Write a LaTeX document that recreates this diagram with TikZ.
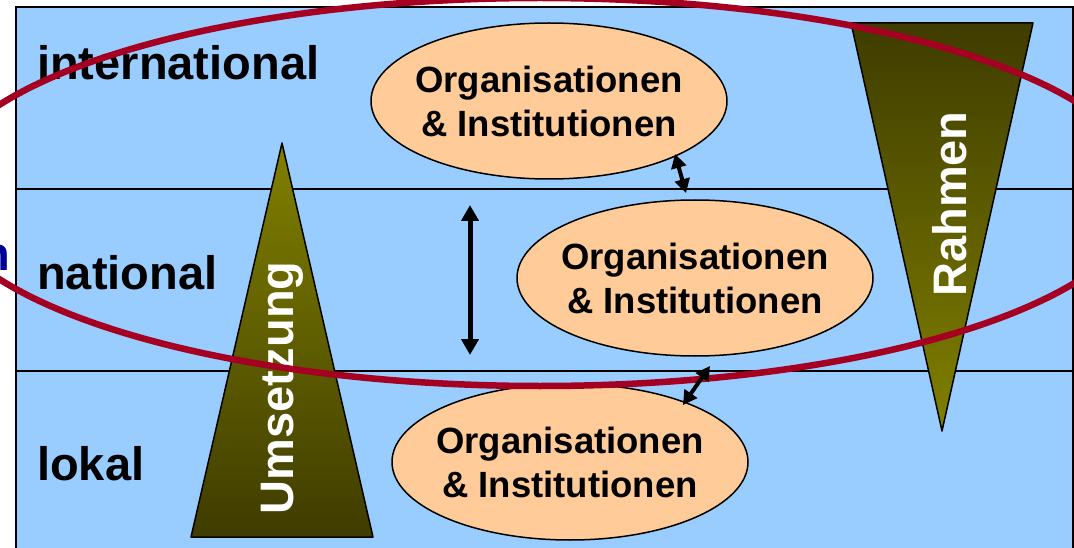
\documentclass[tikz,border=0pt]{standalone}
\usepackage{fontspec}
\setmainfont{Liberation Sans}
\usetikzlibrary{shapes.geometric,arrows.meta}
\definecolor{bg}{HTML}{99CCFF}
\definecolor{peach}{HTML}{FFCC99}
\definecolor{ringred}{HTML}{A50021}
\definecolor{oliveA}{HTML}{808000}
\definecolor{oliveB}{HTML}{3F3C00}
\definecolor{navyn}{HTML}{000099}
\begin{document}
\begin{tikzpicture}[x=1pt,y=-1pt,
  level/.style={anchor=base west, inner sep=0pt, font=\fontsize{47}{50}\selectfont\bfseries},
  orgell/.style={ellipse, draw=black, line width=1.5pt, fill=peach, minimum width=356pt, minimum height=156pt, inner sep=0pt},
  orgtxt/.style={align=center, inner sep=0pt, font=\fontsize{36.5}{44}\selectfont\bfseries},
  triword/.style={rotate=90, anchor=base, inner sep=0pt, text=white, font=\fontsize{47}{50}\selectfont\bfseries},
  sepline/.style={line width=2pt},
  tri/.style={draw=black, line width=1.5pt, line join=round},
  bigarrow/.style={line width=5pt, {Triangle[width=17pt,length=16pt]}-{Triangle[width=17pt,length=16pt]}},
  smallarrow/.style={line width=4pt, {Triangle[width=15pt,length=14pt]}-{Triangle[width=15pt,length=14pt]}},
  ring/.style={draw=ringred, line width=6.5pt}
]
\useasboundingbox (0,0) rectangle (1074,548);
\clip (0,0) rectangle (1074,548);
\fill[white] (0,0) rectangle (1074,548);
% background panel
\draw[fill=bg, line width=2pt] (16,7) rectangle (1073,560);
\draw[sepline] (16,189) -- (1073,189);
\draw[sepline] (16,371) -- (1073,371);
% triangles
\path[tri, top color=oliveA, bottom color=oliveB] (282,143) -- (373,537) -- (191,537) -- cycle;
\path[tri, top color=oliveB, bottom color=oliveA] (851,23) -- (1033,23) -- (942,431) -- cycle;
\node[triword] (umsetzung) at (293,388) {Umsetzung};
\node[triword] (rahmen) at (966,204) {Rahmen};
% level labels
\node[level] (intl) at (37,80) {international};
\node[level] (natl) at (37,290) {national};
\node[level] (lokal) at (37,480) {lokal};
\node[anchor=base east, inner sep=0pt, text=navyn, font=\fontsize{47}{50}\selectfont\bfseries] (frag) at (10,270) {n};
% organisation ellipses
\node[orgell] (e1) at (549,101) {};
\node[orgtxt] (t1) at (e1.center) {Organisationen\\\& Institutionen};
\node[orgell] (e2) at (695,278) {};
\node[orgtxt] (t2) at (e2.center) {Organisationen\\\& Institutionen};
\node[orgell] (e3) at (570,462) {};
\node[orgtxt] (t3) at (e3.center) {Organisationen\\\& Institutionen};
% vertical arrow
\coordinate (va) at (470,205);
\coordinate (vb) at (470,355);
\draw[bigarrow] (va) -- (vb);
% red ring
\draw[ring] (540,192) ellipse [x radius=605pt, y radius=194pt];
% small arrows
\coordinate (s1a) at (675,154);
\coordinate (s1b) at (686,193);
\coordinate (s2a) at (710,366);
\coordinate (s2b) at (683,405);
\draw[smallarrow] (s1a) -- (s1b);
\draw[smallarrow] (s2a) -- (s2b);
\end{tikzpicture}
\end{document}
